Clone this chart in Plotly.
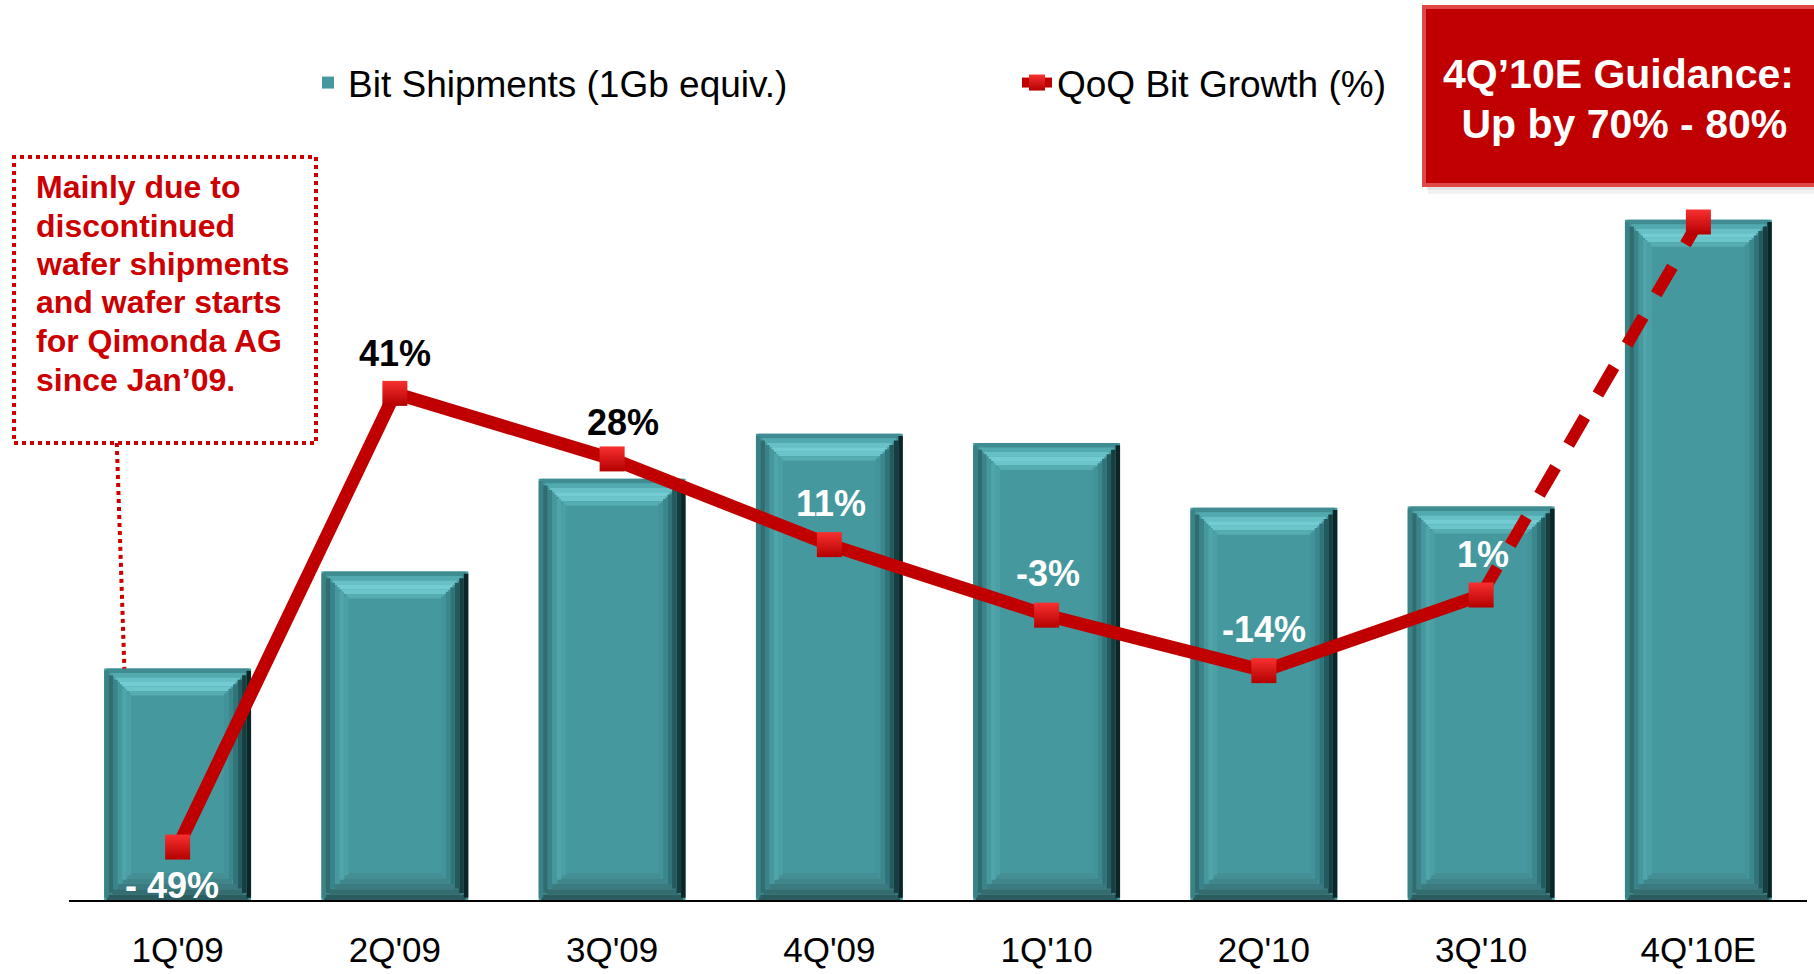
import plotly.graph_objects as go

# ---------------- data ----------------
categories = ["1Q'09", "2Q'09", "3Q'09", "4Q'09", "1Q'10", "2Q'10", "3Q'10", "4Q'10E"]
bit_shipments = [200, 284, 364, 403, 395, 339, 340, 588]      # relative units (bar heights)
qoq_growth = [-49, 41, 28, 11, -3, -14, 1, 75]                 # QoQ bit growth, %
growth_labels = ["- 49%", "41%", "28%", "11%", "-3%", "-14%", "1%", ""]
label_colors = ["white", "black", "black", "white", "white", "white", "white", "white"]
label_dx = [-6, 0, 11, 2, 1, 0, 2, 0]
label_dy = [-38, 40, 36, 41, 42, 41, 41, 0]
note_lines = ["Mainly due to", "discontinued", "wafer shipments",
              "and wafer starts", "for Qimonda AG", "since Jan\u201909."]
guidance_lines = ["4Q\u201910E Guidance:", " Up by 70% - 80%"]
bar_name = "Bit Shipments (1Gb equiv.)"
line_name = "QoQ Bit Growth (%)"

# ---------------- geometry / style ----------------
W, H = 1814, 974
L, R, T, B = 69, 7, 100, 74
PW, PH = W - L - R, H - T - B
Y1_MAX = PH / 1.157
Y2_RANGE = [-59.5, 99.2]
FONT = "Liberation Sans, Arial, sans-serif"
N = len(categories)

BAR_W = 0.676
HW = BAR_W / 2
BVX = 27 / (PW / N)        # bevel size in category units
BVY = 27 * Y1_MAX / PH     # bevel size in y units

MAIN = "#45989d"
TOP_COLS = ["#3f8d92", "#52aaaf", "#66c0c6", "#72ccd2", "#6bc5cb", "#55acb1"]
BOT_COLS = ["#2b5c5f", "#346c70", "#3b7a7e", "#40858a", "#438f94"]
LEFT_COLS = ["#3b8287", "#2f6d71", "#3a8388", "#46989d", "#4fa5aa", "#4ba0a5"]
RIGHT_COLS = ["#0d2526", "#173d3f", "#235a5d", "#30747a", "#3a878c", "#42939a"]


def px_x(p):
    return (p - L) / PW


def px_y(p):
    return (H - B - p) / PH


fig = go.Figure()

# main bar body
fig.add_trace(go.Bar(
    x=categories, y=bit_shipments, width=BAR_W, name=bar_name,
    marker=dict(color=MAIN, line=dict(width=0)), hoverinfo="skip",
))

# top bevel strips
nt = len(TOP_COLS)
for k, c in enumerate(TOP_COLS):
    inset = BVX * (k + 0.5) / nt
    w = BAR_W - 2 * inset
    fig.add_trace(go.Bar(
        x=categories, y=[BVY / nt] * N,
        base=[v - BVY * (k + 1) / nt for v in bit_shipments],
        width=w, offset=-w / 2, marker=dict(color=c, line=dict(width=0)),
        showlegend=False, hoverinfo="skip",
    ))

# bottom bevel strips
nb = len(BOT_COLS)
for k, c in enumerate(BOT_COLS):
    inset = BVX * (k + 0.5) / nb
    w = BAR_W - 2 * inset
    fig.add_trace(go.Bar(
        x=categories, y=[BVY / nb] * N, base=[BVY * k / nb] * N,
        width=w, offset=-w / 2, marker=dict(color=c, line=dict(width=0)),
        showlegend=False, hoverinfo="skip",
    ))

# side bevel strips
ns = len(LEFT_COLS)
for j in range(ns):
    d = (j + 0.5) / ns * BVY
    sw = BVX / ns
    fig.add_trace(go.Bar(
        x=categories, y=[v - 2 * d for v in bit_shipments], base=[d] * N,
        width=sw, offset=-HW + j * sw,
        marker=dict(color=LEFT_COLS[j], line=dict(width=0)),
        showlegend=False, hoverinfo="skip",
    ))
    fig.add_trace(go.Bar(
        x=categories, y=[v - 2 * d for v in bit_shipments], base=[d] * N,
        width=sw, offset=HW - (j + 1) * sw,
        marker=dict(color=RIGHT_COLS[j], line=dict(width=0)),
        showlegend=False, hoverinfo="skip",
    ))

# growth line (dashed forecast segment, then solid history)
RED = "#C00000"
mk = dict(symbol="square", size=25, color="#F83030",
          gradient=dict(type="vertical", color="#B40000"), line=dict(width=0))
fig.add_trace(go.Scatter(
    x=categories[6:], y=qoq_growth[6:], yaxis="y2", mode="lines",
    line=dict(color=RED, width=12, dash="32px,26px"),
    showlegend=False, hoverinfo="skip",
))
fig.add_trace(go.Scatter(
    x=categories[:7], y=qoq_growth[:7], yaxis="y2", mode="lines+markers",
    line=dict(color=RED, width=13), marker=mk, name=line_name, hoverinfo="skip",
))
fig.add_trace(go.Scatter(
    x=categories[7:], y=qoq_growth[7:], yaxis="y2", mode="markers",
    marker=mk, showlegend=False, hoverinfo="skip",
))

annotations = []
for i, txt in enumerate(growth_labels):
    if not txt:
        continue
    annotations.append(dict(
        x=categories[i], y=qoq_growth[i], xref="x", yref="y2", text="<b>%s</b>" % txt,
        showarrow=False, xshift=label_dx[i], yshift=label_dy[i],
        font=dict(family=FONT, size=36, color=label_colors[i]),
    ))

# note text (left)
note_y = [187, 226, 264, 302, 341, 380]
for txt, yy in zip(note_lines, note_y):
    annotations.append(dict(
        x=px_x(34), y=px_y(yy), xref="paper", yref="paper", xanchor="left", yanchor="middle",
        text="<b>%s</b>" % txt, showarrow=False,
        font=dict(family=FONT, size=32, color="#CC0000"),
    ))

# guidance text
for txt, yy, xc in zip(guidance_lines, [74, 124], [1618, 1618]):
    annotations.append(dict(
        x=px_x(xc), y=px_y(yy), xref="paper", yref="paper", xanchor="center", yanchor="middle",
        text="<b>%s</b>" % txt, showarrow=False,
        font=dict(family=FONT, size=41, color="white"),
    ))

shapes = [
    # guidance box shadow + box
    dict(type="rect", xref="paper", yref="paper", x0=px_x(1428), x1=px_x(1830),
         y0=px_y(194), y1=px_y(180), fillcolor="rgba(0,0,0,0.05)", line=dict(width=0), layer="above"),
    dict(type="rect", xref="paper", yref="paper", x0=px_x(1426), x1=px_x(1830),
         y0=px_y(190), y1=px_y(180), fillcolor="rgba(0,0,0,0.06)", line=dict(width=0), layer="above"),
    dict(type="rect", xref="paper", yref="paper", x0=px_x(1424), x1=px_x(1830),
         y0=px_y(185), y1=px_y(7), fillcolor="#C00000", line=dict(color="#E04848", width=4), layer="above"),
    # dotted note box
    dict(type="rect", xref="paper", yref="paper", x0=px_x(14), x1=px_x(316),
         y0=px_y(443), y1=px_y(157), fillcolor="rgba(0,0,0,0)",
         line=dict(color="#CC0000", width=4, dash="dot"), layer="above"),
    # dotted connector to the first bar
    dict(type="line", xref="x", yref="y", x0=-0.28, y0=(H - B - 443) * Y1_MAX / PH,
         x1=-0.245, y1=bit_shipments[0],
         line=dict(color="#CC0000", width=4, dash="dot"), layer="above"),
]

fig.update_layout(
    width=W, height=H, autosize=False,
    margin=dict(l=L, r=R, t=T, b=B, pad=0, autoexpand=False),
    paper_bgcolor="white", plot_bgcolor="white",
    barmode="overlay",
    font=dict(family=FONT, color="black"),
    xaxis=dict(type="category", range=[-0.5, N - 0.5], showgrid=False, zeroline=False,
               showline=True, linecolor="black", linewidth=2, ticks="", automargin=False,
               tickfont=dict(family=FONT, size=35, color="black"), ticklabelstandoff=18),
    yaxis=dict(range=[0, Y1_MAX], visible=False, showgrid=False, zeroline=False, automargin=False),
    yaxis2=dict(range=Y2_RANGE, overlaying="y", side="right", visible=False,
                showgrid=False, zeroline=False, automargin=False),
    legend=dict(orientation="h", x=px_x(308), xanchor="left", y=px_y(52), yanchor="top",
                font=dict(family=FONT, size=37, color="black"), entrywidth=664,
                bgcolor="rgba(0,0,0,0)", itemwidth=30),
    annotations=annotations,
    shapes=shapes,
    showlegend=True,
)

fig.write_html("out.html", config={"displayModeBar": False},
               post_script="document.body.style.margin='0';document.body.style.overflow='hidden';")
